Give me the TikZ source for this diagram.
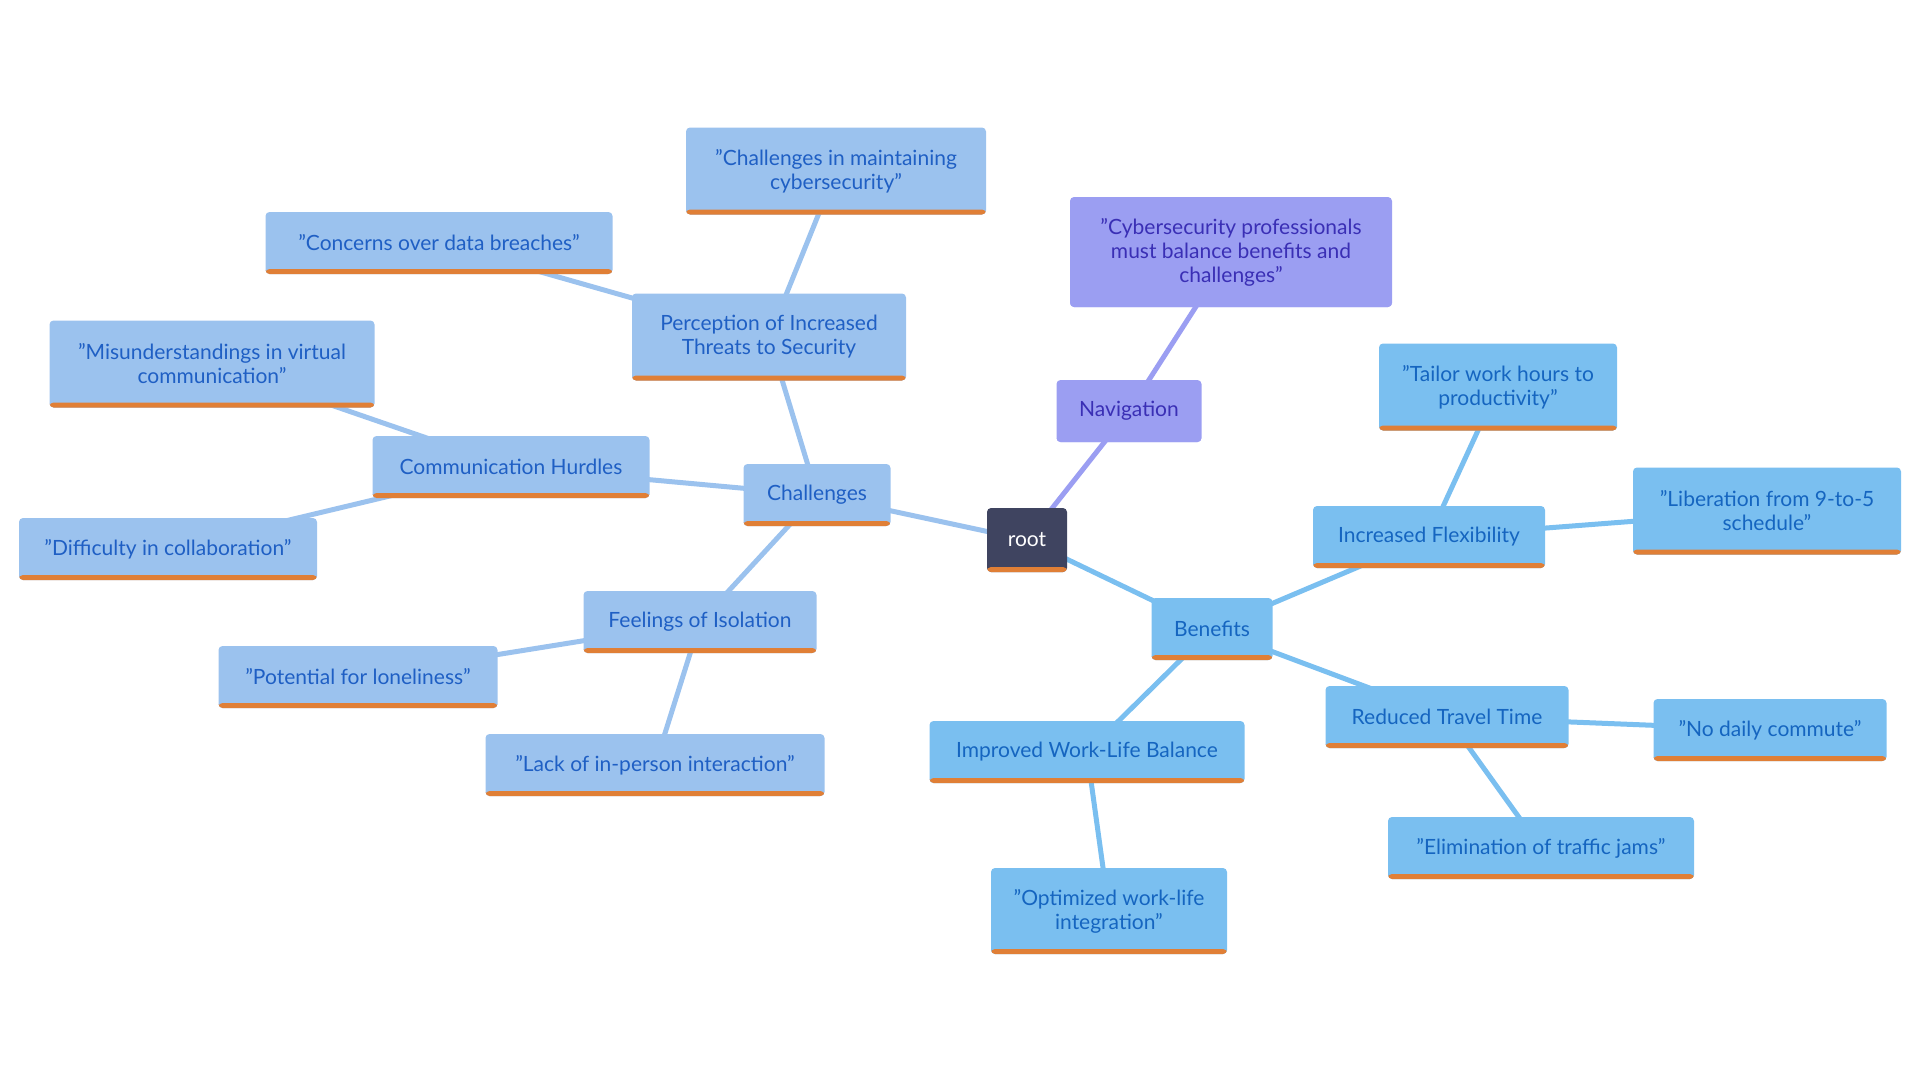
\documentclass[tikz,border=0pt]{standalone}
\usepackage{fontspec}
\setmainfont{Lato}
\usetikzlibrary{backgrounds}
\definecolor{cfill}{HTML}{9BC2EE}
\definecolor{bfill}{HTML}{7ABFF0}
\definecolor{nfill}{HTML}{9B9EF2}
\definecolor{ctext}{HTML}{1F5FC4}
\definecolor{btext}{HTML}{1565C0}
\definecolor{ntext}{HTML}{3A2FB5}
\definecolor{rootc}{HTML}{3F4460}
\definecolor{bar}{HTML}{E07F36}
\definecolor{ybar}{HTML}{D4D43A}
\tikzset{
 box/.style={rectangle,rounded corners=4pt,minimum height=62pt,align=center,font=\fontsize{21}{24}\selectfont,inner sep=0pt,
  path picture={\fill[#1] ([yshift=5pt]path picture bounding box.south west) rectangle (path picture bounding box.south east);}},
 cbox/.style={box=bar,fill=cfill,text=ctext},
 bbox/.style={box=bar,fill=bfill,text=btext},
 nbox/.style={box=ybar,fill=nfill,text=ntext},
 ce/.style={draw=cfill,line width=5pt},
 be/.style={draw=bfill,line width=5pt},
 ne/.style={draw=nfill,line width=5pt},
}
\begin{document}
\begin{tikzpicture}[x=1pt,y=-1pt]
\useasboundingbox (0,0) rectangle (1920,1080);
\node[box=bar,fill=rootc,text=white,minimum width=80pt,minimum height=64pt] (root) at (1027,540) {root};
\node[nbox,minimum width=145pt] (nav) at (1129,411) {Navigation};
\node[nbox,minimum width=322pt,minimum height=110pt] (navq) at (1231,252) {"Cybersecurity professionals\\must balance benefits and\\challenges"};
\node[bbox,minimum width=121pt] (ben) at (1212,629) {Benefits};
\node[bbox,minimum width=232pt] (flex) at (1429,537) {Increased Flexibility};
\node[bbox,minimum width=238pt,minimum height=87pt] (tail) at (1498,387) {"Tailor work hours to\\productivity"};
\node[bbox,minimum width=268pt,minimum height=87pt] (lib) at (1767,511) {"Liberation from 9-to-5\\schedule"};
\node[bbox,minimum width=243pt] (red) at (1447,717) {Reduced Travel Time};
\node[bbox,minimum width=233pt] (comm) at (1770,730) {"No daily commute"};
\node[bbox,minimum width=306pt] (elim) at (1541,848) {"Elimination of traffic jams"};
\node[bbox,minimum width=315pt] (wlb) at (1087,752) {Improved Work-Life Balance};
\node[bbox,minimum width=236pt,minimum height=86pt] (opt) at (1109,911) {"Optimized work-life\\integration"};
\node[cbox,minimum width=147pt] (chal) at (817,495) {Challenges};
\node[cbox,minimum width=274pt,minimum height=87pt] (perc) at (769,337) {Perception of Increased\\Threats to Security};
\node[cbox,minimum width=300pt,minimum height=87pt] (maint) at (836,171) {"Challenges in maintaining\\cybersecurity"};
\node[cbox,minimum width=347pt] (conc) at (439,243) {"Concerns over data breaches"};
\node[cbox,minimum width=277pt] (hurd) at (511,467) {Communication Hurdles};
\node[cbox,minimum width=325pt,minimum height=87pt] (mis) at (212,364) {"Misunderstandings in virtual\\communication"};
\node[cbox,minimum width=298pt] (diff) at (168,549) {"Difficulty in collaboration"};
\node[cbox,minimum width=233pt] (iso) at (700,622) {Feelings of Isolation};
\node[cbox,minimum width=279pt] (lone) at (358,677) {"Potential for loneliness"};
\node[cbox,minimum width=339pt] (lack) at (655,765) {"Lack of in-person interaction"};
\begin{scope}[on background layer]
\draw[ne] (root.center)--(nav.center) (nav.center)--(navq.center);
\draw[be] (root.center)--(ben.center) (ben.center)--(flex.center) (flex.center)--(tail.center) (flex.center)--(lib.center)
 (ben.center)--(red.center) (red.center)--(comm.center) (red.center)--(elim.center) (ben.center)--(wlb.center) (wlb.center)--(opt.center);
\draw[ce] (root.center)--(chal.center) (chal.center)--(perc.center) (perc.center)--(maint.center) (perc.center)--(conc.center)
 (chal.center)--(hurd.center) (hurd.center)--(mis.center) (hurd.center)--(diff.center) (chal.center)--(iso.center) (iso.center)--(lone.center) (iso.center)--(lack.center);
\end{scope}
\end{tikzpicture}
\end{document}
